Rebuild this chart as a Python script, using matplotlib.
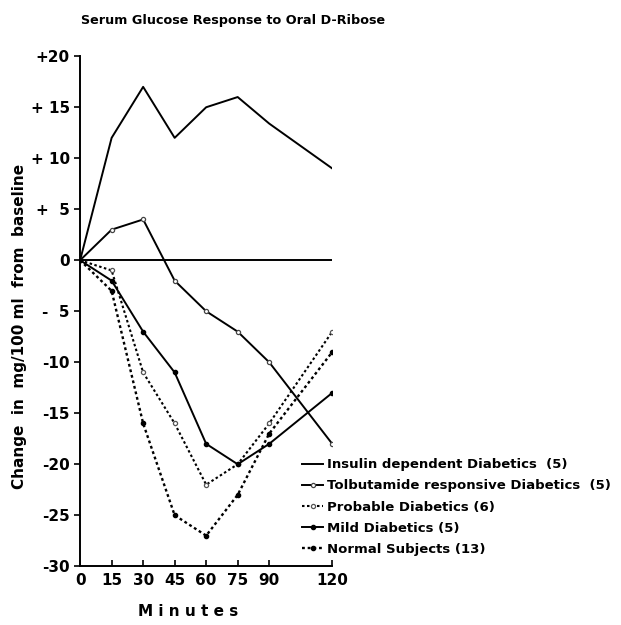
import numpy as np
import matplotlib.pyplot as plt

# Время (минуты) и изменения глюкозы, мг/100 мл
minutes = [0, 15, 30, 45, 60, 75, 90, 120]
insulin_dep = [0, 12, 17, 12, 15, 16, 13.4, 9]
tolbutamide = [0, 3, 4, -2, -5, -7, -10, -18]
probable = [0, -1, -11, -16, -22, -20, -16, -7]
mild = [0, -2, -7, -11, -18, -20, -18, -13]
normal = [0, -3, -16, -25, -27, -23, -17, -9]

labels = ['Insulin dependent Diabetics  (5)',
          'Tolbutamide responsive Diabetics  (5)',
          'Probable Diabetics (6)',
          'Mild Diabetics (5)',
          'Normal Subjects (13)']
y_ticks = [20, 15, 10, 5, 0, -5, -10, -15, -20, -25, -30]
y_tick_labels = ['+20', '+ 15', '+ 10', '+  5', '0', '-  5', '-10', '-15', '-20', '-25', '-30']

plt.rcParams['font.family'] = ['DejaVu Sans']
plt.rcParams['font.weight'] = 'bold'
plt.rcParams['axes.labelweight'] = 'bold'

fig = plt.figure(figsize=(6.21, 6.25), dpi=100)
ax = fig.add_axes([0.129, 0.094, 0.406, 0.816])

ax.plot(minutes, insulin_dep, '-', color='black', lw=1.4, label=labels[0])
ax.plot(minutes, tolbutamide, '-', color='black', lw=1.4, marker='o', ms=3.0,
        mfc='white', mec='#444444', mew=0.9, label=labels[1])
ax.plot(minutes, probable, linestyle=(0, (1.2, 1.2)), color='black', lw=1.5, marker='o', ms=3.0,
        mfc='white', mec='#555555', mew=0.9, label=labels[2])
ax.plot(minutes, mild, '-', color='black', lw=1.4, marker='o', ms=3.0,
        mfc='black', mec='black', label=labels[3])
ax.plot(minutes, normal, linestyle=(0, (1.2, 1.2)), color='black', lw=1.7, marker='o', ms=3.0,
        mfc='black', mec='black', label=labels[4])
ax.axhline(0, color='black', lw=1.4)

ax.set_xlim(0, 120)
ax.set_ylim(-30, 20)
ax.set_xticks(minutes)
ax.set_yticks(y_ticks)
ax.set_yticklabels(y_tick_labels)
ax.tick_params(axis='both', labelsize=11, length=4, width=1.2)
ax.tick_params(axis='x', direction='in', pad=5)
for s in ['top', 'right']:
    ax.spines[s].set_visible(False)
for s in ['left', 'bottom']:
    ax.spines[s].set_linewidth(1.4)

ax.set_xlabel('M i n u t e s', fontsize=11)
ax.xaxis.set_label_coords(0.43, -0.075)
ax.set_ylabel('Change  in  mg/100 ml  from  baseline', fontsize=11)
ax.yaxis.set_label_coords(-0.21, 0.47)
fig.text(0.13, 0.967, 'Serum Glucose Response to Oral D-Ribose', fontsize=9.2,
         ha='left', va='center')

ax.legend(loc='upper left', bbox_to_anchor=(0.86, 0.222), frameon=False, fontsize=9.5,
          handlelength=1.6, handletextpad=0.3, labelspacing=0.62, borderaxespad=0)

plt.savefig('out.png', dpi=100)
